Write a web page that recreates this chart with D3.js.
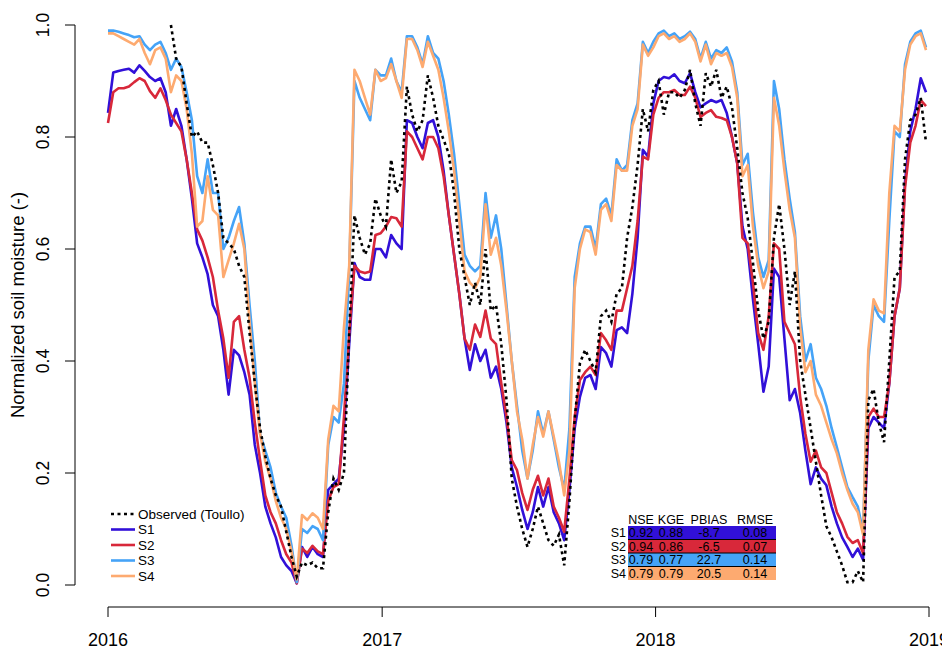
<!DOCTYPE html>
<html>
<head>
<meta charset="utf-8">
<script src="https://cdn.jsdelivr.net/npm/d3@7"></script>
<style>
  body { margin: 0; background: #fff; }
  svg { display: block; }
  text { font-family: "Liberation Sans", Arial, Helvetica, sans-serif; fill: #000; }
</style>
</head>
<body>
<svg id="chart" width="942" height="651"></svg>
<script>
// Weekly soil-moisture series, starting 2016-01-01
const startDate = "2016-01-01";
const stepDays = 7;

const observed = [
  null,null,null,null,null,null,null,null,null,null,null,null,
  1.0,0.94,0.925,0.86,0.80,0.81,0.79,0.79,
  0.75,0.70,0.62,0.61,0.60,0.57,0.55,0.45,0.36,0.28,
  0.23,0.19,0.16,0.14,0.095,0.05,0.015,0.04,0.035,0.04,
  0.03,0.03,0.13,0.19,0.17,0.20,0.45,0.66,0.62,0.59,
  0.61,0.69,0.66,0.64,0.76,0.70,0.72,0.89,0.84,0.81,
  0.83,0.91,0.87,0.82,0.795,0.77,0.70,0.60,0.55,0.50,
  0.54,0.50,0.60,0.49,0.50,0.43,0.33,0.19,0.14,0.10,
  0.068,0.10,0.14,0.11,0.08,0.07,0.09,0.035,0.15,0.295,
  0.396,0.42,0.40,0.38,0.48,0.49,0.47,0.52,0.53,0.62,
  0.675,0.75,0.85,0.81,0.884,0.90,0.84,0.88,0.88,0.87,
  0.884,0.92,0.86,0.82,0.914,0.89,0.92,0.87,0.89,0.853,
  0.78,0.70,0.655,0.575,0.49,0.44,0.47,0.62,0.68,0.60,
  0.50,0.56,0.40,0.34,0.28,0.22,0.16,0.105,0.085,0.06,
  0.035,0.005,0.005,0.025,0.005,0.33,0.35,0.29,0.255,0.40,
  0.55,0.56,0.76,0.83,0.84,0.87,0.79
];

const s1 = [
  0.843,0.915,0.918,0.92,0.922,0.915,0.928,0.918,0.907,0.90,
  0.905,0.88,0.82,0.85,0.82,0.76,0.69,0.61,0.585,0.555,
  0.50,0.48,0.42,0.34,0.42,0.41,0.38,0.34,0.25,0.20,
  0.14,0.11,0.085,0.05,0.035,0.025,0.003,0.068,0.05,0.068,
  0.055,0.05,0.17,0.18,0.19,0.28,0.43,0.575,0.55,0.545,
  0.545,0.60,0.60,0.585,0.625,0.61,0.60,0.83,0.825,0.80,
  0.78,0.825,0.83,0.80,0.74,0.66,0.59,0.52,0.44,0.384,
  0.43,0.40,0.42,0.37,0.39,0.35,0.29,0.21,0.175,0.134,
  0.10,0.13,0.175,0.14,0.175,0.13,0.11,0.08,0.17,0.28,
  0.336,0.37,0.375,0.35,0.425,0.414,0.39,0.455,0.46,0.45,
  0.52,0.62,0.777,0.765,0.86,0.90,0.907,0.905,0.912,0.90,
  0.896,0.914,0.88,0.853,0.86,0.866,0.862,0.866,0.843,0.80,
  0.753,0.64,0.60,0.51,0.43,0.345,0.39,0.565,0.55,0.44,
  0.33,0.35,0.307,0.24,0.18,0.21,0.19,0.178,0.14,0.11,
  0.085,0.068,0.05,0.065,0.045,0.28,0.30,0.29,0.28,0.36,
  0.48,0.53,0.72,0.81,0.85,0.905,0.88
];

const s2 = [
  0.825,0.88,0.887,0.887,0.89,0.898,0.905,0.90,0.882,0.87,
  0.887,0.866,0.84,0.825,0.81,0.76,0.70,0.635,0.615,0.585,
  0.55,0.49,0.44,0.37,0.47,0.48,0.42,0.37,0.29,0.223,
  0.16,0.13,0.11,0.08,0.055,0.04,0.003,0.065,0.057,0.07,
  0.06,0.055,0.15,0.175,0.18,0.30,0.45,0.57,0.56,0.557,
  0.56,0.625,0.628,0.64,0.657,0.655,0.64,0.81,0.80,0.78,
  0.76,0.80,0.80,0.78,0.73,0.66,0.59,0.52,0.44,0.42,
  0.465,0.443,0.49,0.44,0.43,0.36,0.30,0.223,0.205,0.164,
  0.134,0.17,0.195,0.16,0.19,0.14,0.12,0.095,0.19,0.30,
  0.366,0.38,0.39,0.375,0.45,0.437,0.42,0.49,0.49,0.53,
  0.57,0.65,0.765,0.76,0.84,0.87,0.88,0.88,0.884,0.875,
  0.875,0.89,0.87,0.836,0.843,0.848,0.836,0.834,0.83,0.80,
  0.753,0.62,0.61,0.54,0.45,0.42,0.48,0.61,0.60,0.47,
  0.45,0.43,0.336,0.27,0.22,0.24,0.21,0.20,0.165,0.13,
  0.11,0.086,0.075,0.08,0.057,0.30,0.315,0.30,0.30,0.36,
  0.48,0.53,0.71,0.79,0.82,0.866,0.855
];

const s3 = [
  0.99,0.99,0.988,0.985,0.982,0.978,0.98,0.965,0.955,0.965,
  0.97,0.95,0.92,0.94,0.925,0.88,0.83,0.73,0.70,0.76,
  0.70,0.70,0.60,0.62,0.65,0.675,0.61,0.50,0.40,0.27,
  0.24,0.21,0.165,0.14,0.12,0.07,0.005,0.10,0.093,0.105,
  0.10,0.08,0.25,0.30,0.29,0.36,0.56,0.90,0.87,0.85,
  0.83,0.92,0.91,0.91,0.94,0.90,0.88,0.98,0.98,0.96,
  0.93,0.98,0.95,0.94,0.90,0.84,0.77,0.68,0.59,0.57,
  0.56,0.57,0.70,0.62,0.66,0.60,0.50,0.40,0.32,0.24,
  0.19,0.24,0.31,0.27,0.31,0.26,0.21,0.17,0.28,0.55,
  0.61,0.64,0.64,0.60,0.68,0.69,0.66,0.76,0.74,0.75,
  0.83,0.86,0.97,0.95,0.97,0.985,0.99,0.98,0.985,0.975,
  0.98,0.988,0.975,0.94,0.97,0.94,0.955,0.95,0.96,0.935,
  0.88,0.75,0.77,0.665,0.585,0.55,0.58,0.90,0.85,0.76,
  0.69,0.63,0.48,0.40,0.43,0.37,0.35,0.32,0.28,0.246,
  0.21,0.175,0.157,0.14,0.095,0.40,0.50,0.48,0.47,0.65,
  0.81,0.80,0.93,0.97,0.985,0.99,0.96
];

const s4 = [
  0.985,0.985,0.98,0.975,0.97,0.965,0.975,0.95,0.93,0.955,
  0.96,0.94,0.88,0.91,0.90,0.85,0.77,0.64,0.65,0.73,
  0.67,0.66,0.55,0.58,0.61,0.645,0.60,0.47,0.36,0.27,
  0.22,0.19,0.15,0.12,0.10,0.06,0.01,0.125,0.116,0.128,
  0.12,0.10,0.26,0.32,0.31,0.46,0.57,0.92,0.90,0.87,
  0.84,0.92,0.90,0.905,0.93,0.90,0.87,0.975,0.975,0.955,
  0.925,0.97,0.945,0.92,0.87,0.81,0.74,0.65,0.56,0.54,
  0.53,0.55,0.68,0.59,0.62,0.57,0.49,0.40,0.31,0.26,
  0.19,0.25,0.30,0.265,0.31,0.265,0.22,0.16,0.24,0.53,
  0.60,0.635,0.63,0.59,0.67,0.68,0.65,0.75,0.74,0.74,
  0.82,0.85,0.965,0.945,0.96,0.98,0.985,0.975,0.98,0.97,
  0.975,0.985,0.97,0.935,0.965,0.93,0.95,0.945,0.95,0.925,
  0.87,0.73,0.75,0.64,0.57,0.53,0.56,0.87,0.82,0.74,
  0.67,0.62,0.46,0.38,0.40,0.34,0.32,0.29,0.26,0.235,
  0.20,0.17,0.145,0.13,0.09,0.42,0.51,0.49,0.485,0.70,
  0.82,0.81,0.92,0.965,0.98,0.985,0.955
];

const seriesNames = ["S1", "S2", "S3", "S4"];
const seriesColors = ["#3110D8", "#D8283A", "#45A3F7", "#FDAA70"];
const observedLabel = "Observed (Toullo)";

const metricNames = ["NSE", "KGE", "PBIAS", "RMSE"];
const metricRows = [
  ["0.92", "0.88", "-8.7", "0.08"],
  ["0.94", "0.86", "-6.5", "0.07"],
  ["0.79", "0.77", "22.7", "0.14"],
  ["0.79", "0.79", "20.5", "0.14"]
];

const yTicks = [0, 0.2, 0.4, 0.6, 0.8, 1.0];
const xTickDates = ["2016-01-01", "2017-01-01", "2018-01-01", "2019-01-01"];
const yTitle = "Normalized soil moisture (-)";

// ---- layout ----
const svg = d3.select("#chart");
const parse = d3.utcParse("%Y-%m-%d");
const t0 = parse(startDate);
const dates = s1.map((_, i) => d3.utcDay.offset(t0, i * stepDays));

const x = d3.scaleUtc()
  .domain([parse(xTickDates[0]), parse(xTickDates[xTickDates.length - 1])])
  .range([108, 929]);
const y = d3.scaleLinear().domain([0, 1]).range([585, 25]);

const axisY = 607;   // x axis line position
const axisX = 75;    // y axis line position
const tickLen = 10;

// y axis
const gy = svg.append("g");
gy.append("line")
  .attr("x1", axisX).attr("x2", axisX)
  .attr("y1", y(0)).attr("y2", y(1))
  .attr("stroke", "#000").attr("stroke-width", 1);
gy.selectAll("line.tick").data(yTicks).join("line")
  .attr("class", "tick")
  .attr("x1", axisX).attr("x2", axisX - tickLen)
  .attr("y1", d => y(d)).attr("y2", d => y(d))
  .attr("stroke", "#000").attr("stroke-width", 1);
gy.selectAll("text").data(yTicks).join("text")
  .attr("transform", d => `translate(43,${y(d)}) rotate(-90)`)
  .attr("text-anchor", "middle")
  .attr("dy", "0.35em")
  .style("font-size", "17.5px")
  .text(d => d3.format(".1f")(d));

svg.append("text")
  .attr("transform", `translate(18,${(y(0) + y(1)) / 2}) rotate(-90)`)
  .attr("text-anchor", "middle")
  .attr("dy", "0.35em")
  .style("font-size", "18.5px")
  .text(yTitle);

// x axis
const xt = xTickDates.map(parse);
const gx = svg.append("g");
gx.append("line")
  .attr("x1", x(xt[0])).attr("x2", x(xt[xt.length - 1]))
  .attr("y1", axisY).attr("y2", axisY)
  .attr("stroke", "#000").attr("stroke-width", 1);
gx.selectAll("line.tick").data(xt).join("line")
  .attr("class", "tick")
  .attr("x1", d => x(d)).attr("x2", d => x(d))
  .attr("y1", axisY).attr("y2", axisY + tickLen)
  .attr("stroke", "#000").attr("stroke-width", 1);
gx.selectAll("text").data(xt).join("text")
  .attr("x", d => x(d)).attr("y", 646)
  .attr("text-anchor", "middle")
  .style("font-size", "18px")
  .text(d => d3.utcFormat("%Y")(d));

// ---- series ----
const line = d3.line()
  .defined(d => d.v != null)
  .x(d => x(d.t))
  .y(d => y(d.v));

const simSeries = [s1, s2, s3, s4];
simSeries.forEach((vals, i) => {
  svg.append("path")
    .datum(vals.map((v, j) => ({ t: dates[j], v })))
    .attr("fill", "none")
    .attr("stroke", seriesColors[i])
    .attr("stroke-width", 2.6)
    .attr("stroke-linejoin", "round")
    .attr("d", line);
});

svg.append("path")
  .datum(observed.map((v, j) => ({ t: dates[j], v })))
  .attr("fill", "none")
  .attr("stroke", "#000")
  .attr("stroke-width", 2.6)
  .attr("stroke-dasharray", "3,3.5")
  .attr("d", line);

// ---- legend ----
const legendItems = [{ label: observedLabel, color: "#000", dash: "3,3.5" }]
  .concat(seriesNames.map((n, i) => ({ label: n, color: seriesColors[i], dash: null })));
const lg = svg.append("g");
legendItems.forEach((it, i) => {
  const ly = 514 + i * 15.5;
  lg.append("line")
    .attr("x1", 111).attr("x2", 135)
    .attr("y1", ly).attr("y2", ly)
    .attr("stroke", it.color).attr("stroke-width", 2.6)
    .attr("stroke-dasharray", it.dash);
  lg.append("text")
    .attr("x", 138).attr("y", ly)
    .attr("dy", "0.36em")
    .style("font-size", "13.5px")
    .text(it.label);
});

// ---- metrics table ----
const tb = svg.append("g");
const cellX0 = 628, cellX1 = 776, rowTop = 526, rowH = 13.5;
const colCenters = [641, 671, 709, 755];
tb.selectAll("text.hdr").data(metricNames).join("text")
  .attr("class", "hdr")
  .attr("x", (d, i) => colCenters[i]).attr("y", 524)
  .attr("text-anchor", "middle")
  .style("font-size", "12.5px")
  .text(d => d);
metricRows.forEach((row, r) => {
  const ry = rowTop + r * rowH;
  tb.append("rect")
    .attr("x", cellX0).attr("y", ry)
    .attr("width", cellX1 - cellX0).attr("height", rowH)
    .attr("fill", seriesColors[r]);
  tb.append("text")
    .attr("x", 626).attr("y", ry + rowH / 2)
    .attr("dy", "0.36em")
    .attr("text-anchor", "end")
    .style("font-size", "12.5px")
    .text(seriesNames[r]);
  row.forEach((v, c) => {
    tb.append("text")
      .attr("x", colCenters[c]).attr("y", ry + rowH / 2)
      .attr("dy", "0.36em")
      .attr("text-anchor", "middle")
      .style("font-size", "12.5px")
      .text(v);
  });
});
d3.range(1, metricRows.length).forEach(r => {
  tb.append("line")
    .attr("x1", cellX0).attr("x2", cellX1)
    .attr("y1", rowTop + r * rowH).attr("y2", rowTop + r * rowH)
    .attr("stroke", "#000").attr("stroke-width", 1);
});
</script>
</body>
</html>
